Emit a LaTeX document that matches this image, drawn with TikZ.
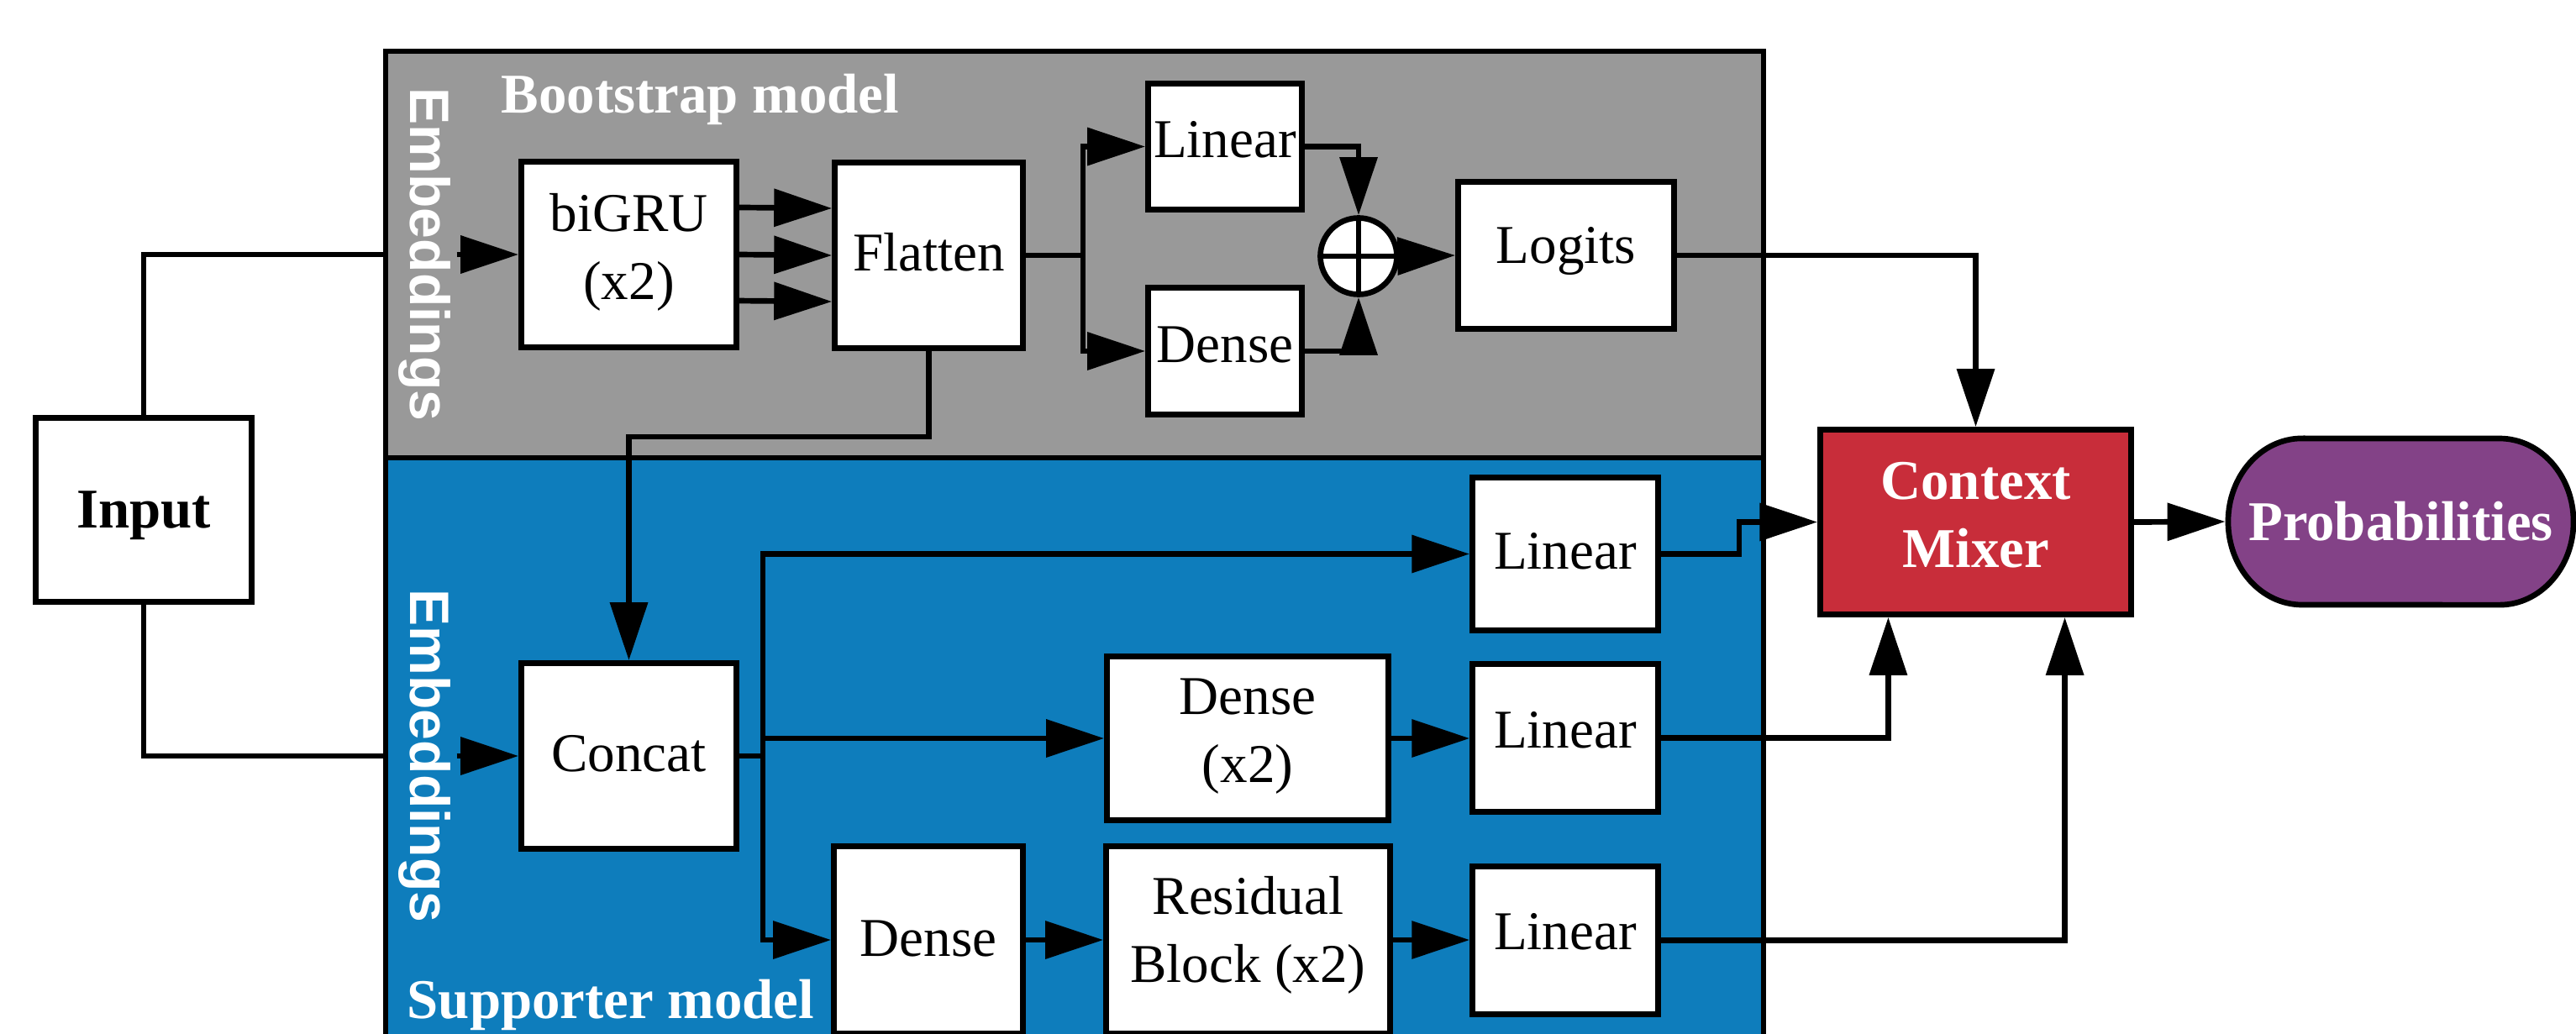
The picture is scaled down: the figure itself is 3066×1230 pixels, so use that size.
\documentclass[tikz,border=0pt]{standalone}
\usepackage{fontspec}
\setmainfont{Liberation Serif}
\setsansfont{Liberation Sans}
\usetikzlibrary{arrows.meta,calc}

\definecolor{bootgray}{RGB}{153,153,153}
\definecolor{suppblue}{RGB}{14,125,188}
\definecolor{mixred}{RGB}{200,45,58}
\definecolor{probpurple}{RGB}{131,66,135}

\begin{document}
\begin{tikzpicture}[x=0.01cm, y=-0.01cm,
  font=\fontsize{18.5}{23}\selectfont,
  every node/.style={inner sep=0pt},
  thick line/.style={line width=1.9pt},
  blk/.style 2 args={draw, thick line, fill=white, align=center,
    minimum width=#1*0.01cm, minimum height=#2*0.01cm},
  panel/.style 2 args={draw, thick line, minimum width=#1*0.01cm, minimum height=#2*0.01cm},
  wire/.style={thick line},
  arr/.style={thick line, -{Triangle[length=19.6pt,width=12.5pt]}},
  paneltitle/.style={text=white, font=\bfseries\fontsize{19}{23}\selectfont, anchor=base west},
  embtext/.style={text=white, rotate=-90, font=\sffamily\bfseries\fontsize{18.8}{22}\selectfont},
  boldwhite/.style={text=white, font=\bfseries\fontsize{19}{23.2}\selectfont}]

\path[use as bounding box, clip] (0,0) rectangle (3066,1230);

% model panels
\node[panel={1640}{484}, fill=bootgray] (boot) at (1279,303) {};
\node[panel={1640}{710}, fill=suppblue] (supp) at (1279,900) {};
\node[paneltitle] (bootT) at (596,134) {Bootstrap model};
\node[paneltitle] (suppT) at (484,1212) {Supporter model};
\node[embtext] (embB) at (505,303) {Embeddings};
\node[embtext] (embS) at (505,900) {Embeddings};

% input
\node[blk={257}{219}, font=\bfseries\fontsize{19}{23}\selectfont, text depth=0pt] (input) at (171,607) {Input};

% bootstrap model blocks
\node[blk={256}{221}, text depth=0.2cm] (bigru) at (748.5,303) {biGRU\\(x2)};
\node[blk={224}{221}, text depth=0.08cm] (flatten) at (1105.5,304) {Flatten};
\node[blk={183}{150}, text depth=0.17cm] (linB) at (1458,174.5) {Linear};
\node[blk={183}{151}, text depth=0.16cm] (denB) at (1458,418) {Dense};
\node[draw, thick line, fill=white, circle, minimum size=91*0.01cm,
  path picture={
    \draw[thick line] (path picture bounding box.north) -- (path picture bounding box.south);
    \draw[thick line] (path picture bounding box.west) -- (path picture bounding box.east);
  }] (plus) at (1617,305) {};
\node[blk={257}{175}, text depth=0.244cm] (logits) at (1864,304) {Logits};

% supporter model blocks
\node[blk={256}{221}, text depth=0.07cm] (concat) at (748.5,900) {Concat};
\node[blk={221}{182}, text depth=0.07cm] (linS1) at (1863,659.5) {Linear};
\node[blk={335}{195}, text depth=0.185cm] (dense2) at (1485,879) {Dense\\(x2)};
\node[blk={221}{176}, text depth=0.19cm] (linS2) at (1863,878.5) {Linear};
\node[blk={225}{223}, text depth=0.04cm] (denS) at (1105,1119) {Dense};
\node[blk={338}{223}, text depth=0.255cm] (res) at (1485.5,1119) {Residual\\Block (x2)};
\node[blk={221}{176}, text depth=0.22cm] (linS3) at (1863,1119.5) {Linear};

% mixer and output
\node[blk={370}{220}, fill=mixred, boldwhite, text depth=0.17cm] (cm) at (2351.5,621.5) {Context\\Mixer};
\path[draw, thick line, fill=probpurple]
  (2740,522) -- (2975,522)
  arc[start angle=90, end angle=-90, x radius=0.88cm, y radius=0.99cm]
  -- (2740,720)
  arc[start angle=270, end angle=90, x radius=0.88cm, y radius=0.99cm] -- cycle;
\node[boldwhite, minimum width=4.11cm, minimum height=1.98cm, outer sep=0.95pt] (prob) at (2857.5,621) {Probabilities};

% input routing
\draw[wire] (input.north) |- (boot.west);
\draw[wire] (input.south) |- (supp.west);
\coordinate (embBout) at ([xshift=0.07cm]embB.north);
\coordinate (embSout) at ([xshift=0.07cm]embS.north);
\draw[arr] (embBout |- bigru.west) -- (bigru.west);
\draw[arr] (embSout |- concat.west) -- (concat.west);

% bootstrap connections
\draw[arr] ([yshift=0.56cm]bigru.east) -- ([yshift=0.56cm]flatten.west);
\draw[arr] (bigru.east) -- (flatten.west);
\draw[arr] ([yshift=-0.55cm]bigru.east) -- ([yshift=-0.55cm]flatten.west);
\coordinate (fbr) at ([xshift=0.68cm]flatten.east);
\draw[wire] (flatten.east) -- (fbr);
\draw[arr] (fbr) |- (linB.west);
\draw[arr] (fbr) |- (denB.west);
\draw[arr] (linB.east) -| (plus.north);
\draw[arr] (denB.east) -| (plus.south);
\draw[arr] (plus.east) -- (logits.west);
\draw[arr] (logits.east) -| (cm.north);
\draw[arr] (flatten.south) -- ++(0,102) -| (concat.north);

% supporter connections
\coordinate (cbr) at ([xshift=0.28cm]concat.east);
\draw[wire] (concat.east) -- (cbr);
\draw[arr] (cbr) |- (linS1.west);
\draw[arr] (cbr) |- (denS.west);
\draw[arr] (cbr |- dense2.west) -- (dense2.west);
\draw[arr] (dense2.east) -- (dense2.east -| linS2.west);
\draw[arr] (denS.east) -- (res.west);
\draw[arr] (res.east) -- (res.east -| linS3.west);

% into the mixer
\draw[arr] (linS1.east) -- ++(93,0) |- (cm.west);
\draw[arr] (linS2.east) -| ([xshift=-1.04cm]cm.south);
\draw[arr] (linS3.east) -| ([xshift=1.06cm]cm.south);
\draw[arr] (cm.east) -- (prob.west);

\end{tikzpicture}
\end{document}
